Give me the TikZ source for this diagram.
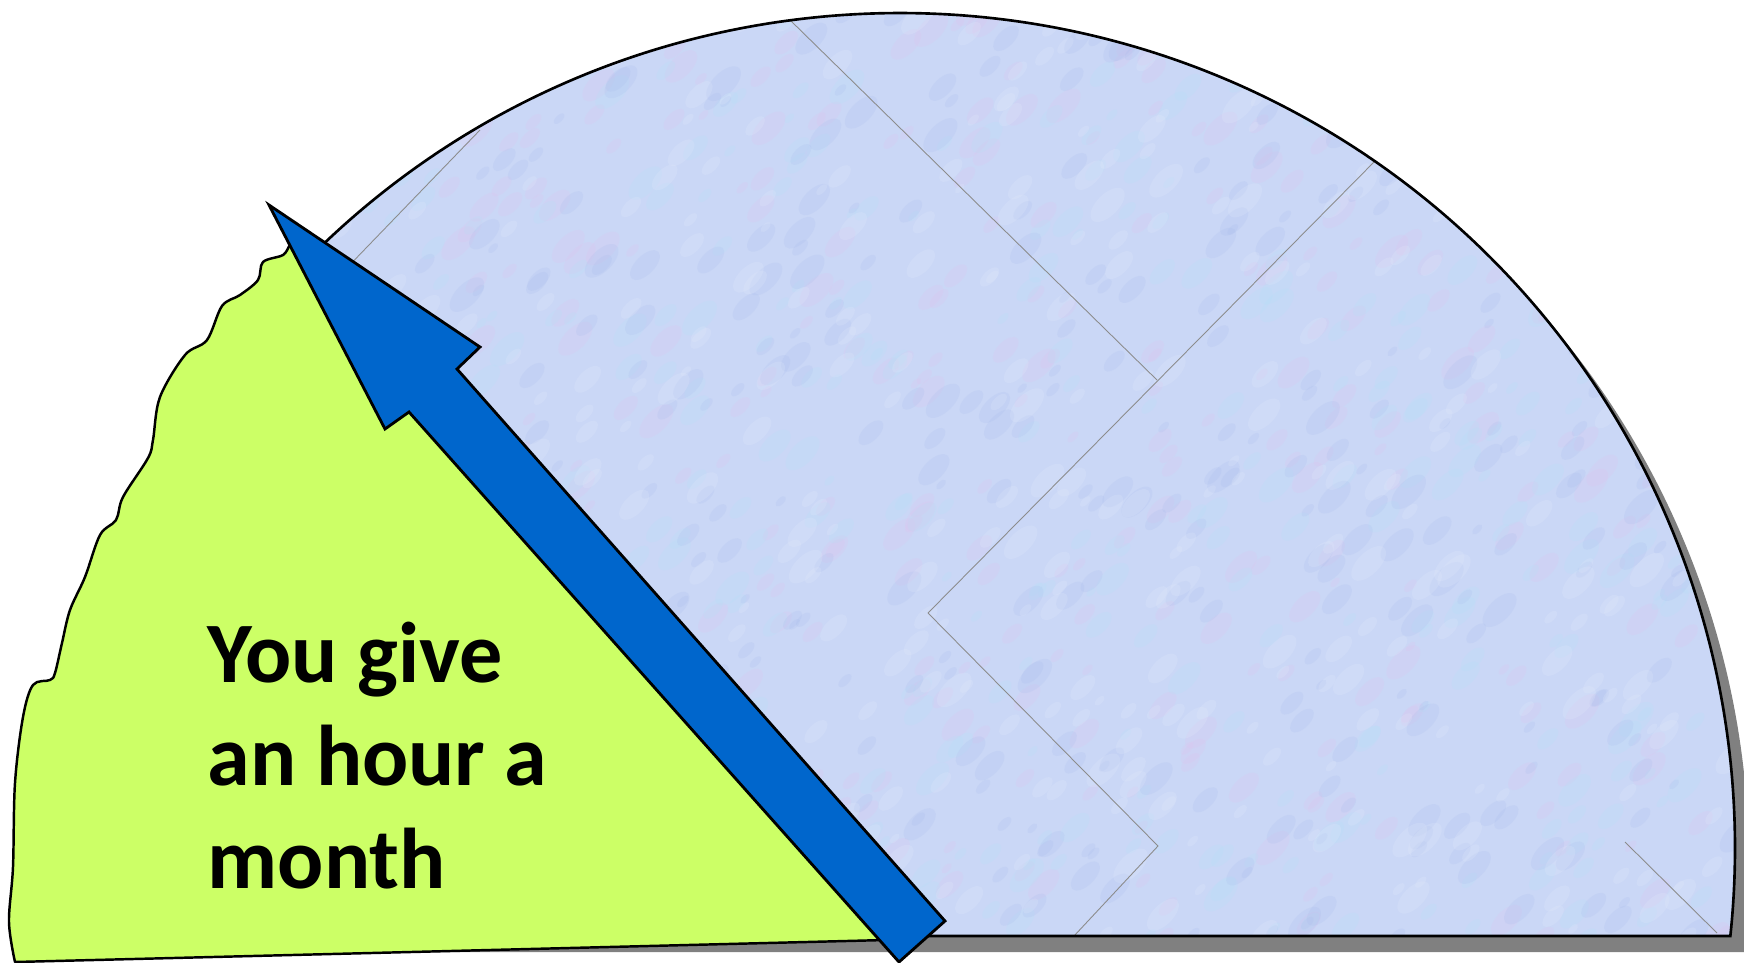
\documentclass[tikz,border=0pt]{standalone}
\usepackage{fontspec}
\setmainfont{Carlito}

\definecolor{limefill}{RGB}{204,255,102}
\definecolor{arrowblue}{RGB}{0,102,204}
\definecolor{diskbase}{RGB}{202,215,246}
\definecolor{mottlepink}{RGB}{228,192,238}
\definecolor{mottlecyan}{RGB}{176,228,246}
\definecolor{mottleblue}{RGB}{166,186,236}
\definecolor{mottlewhite}{RGB}{232,238,252}
\definecolor{shadowgray}{RGB}{128,128,128}

\begin{document}
\begin{tikzpicture}[x=0.01cm, y=-0.01cm,
  halfdisk/.style={draw=black, line width=0.75pt},
  greenwedge/.style={fill=limefill, draw=black, line width=0.7pt, line join=round},
  bluearrow/.style={fill=arrowblue, draw=black, line width=0.8pt},
  seam/.style={draw=black!45, line width=0.25pt}]
  \useasboundingbox (0,0) rectangle (1744,963);

  % ends of the dial on its base line
  \coordinate (L) at (69.7,936);
  \coordinate (R) at (1730.3,936);

  % drop shadow
  \fill[shadowgray] ([shift={(14,16)}]L) arc[start angle=173.95, end angle=366.05, radius=835] -- cycle;

  % textured half disc
  \begin{scope}
    \clip (L) arc[start angle=173.95, end angle=366.05, radius=835] -- cycle;
    \fill[diskbase] (0,0) rectangle (1744,963);
    \pgfmathsetseed{31}
    \foreach \c in {mottlepink,mottlecyan,mottleblue,mottlewhite}{
      \foreach \i in {1,...,450}{
        \pgfmathsetmacro{\mx}{40+1700*rnd}
        \pgfmathsetmacro{\my}{10+930*rnd}
        \pgfmathsetmacro{\mr}{6+16*rnd}
        \fill[\c, opacity=0.18] (\mx,\my) ellipse[x radius=\mr, y radius=0.5*\mr, rotate=45];
      }
    }
    % tile seams
    \draw[seam] (790,20) -- (1157,380);
    \draw[seam] (928,613) -- (1376,160);
    \draw[seam] (928,613) -- (1158,846) -- (1074,936);
    \draw[seam] (480,130) -- (340,275);
    \draw[seam] (1625,842) -- (1717,933);
  \end{scope}
  \draw[halfdisk] (L) arc[start angle=173.95, end angle=366.05, radius=835] -- cycle;

  % green wedge
  \draw[greenwedge] plot[smooth, tension=0.55] coordinates {
    (300,235) (290,245) (283,255) (263,262) (258,280) (240,295) (222,306)
    (207,340) (185,355) (160,397) (153,440) (148,458) (123,497) (116,520)
    (100,535) (85,577) (70,610) (62,643) (55,673) (50,680) (33,685)
    (23,717) (15,783) (13,867) (9,922) (15,962)}
    -- (886,940) -- cycle;

  % blue arrow
  \coordinate (tip) at (269,205);
  \coordinate (rb) at (480,347);
  \coordinate (rn) at (457,369);
  \coordinate (tr) at (945,921);
  \coordinate (tl) at (899,962);
  \coordinate (ln) at (409,412);
  \coordinate (lb) at (385,429);
  \draw[bluearrow] (tip) -- (rb) -- (rn) -- (tr) -- (tl) -- (ln) -- (lb) -- cycle;

  \node[anchor=base west, align=left, inner sep=0pt,
        font=\fontsize{24.5}{29.2}\selectfont\bfseries] (caption) at (207,888)
        {You give\\an hour a\\month};
\end{tikzpicture}
\end{document}
